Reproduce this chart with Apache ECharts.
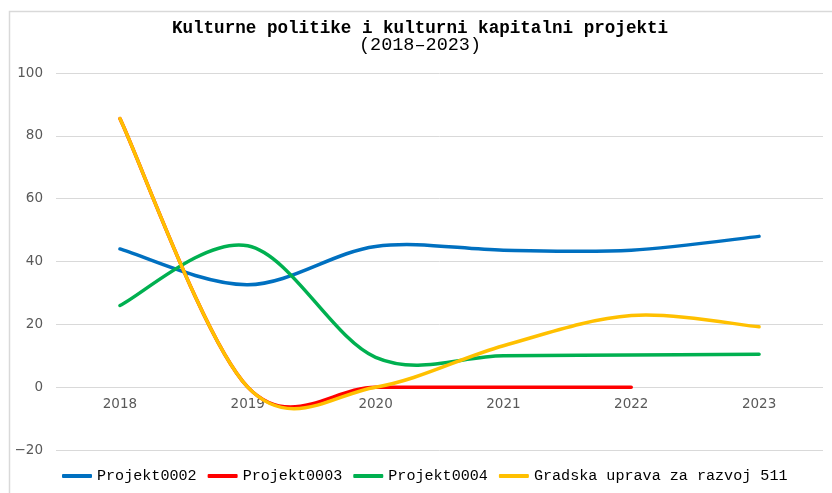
<!DOCTYPE html>
<html>
<head>
<meta charset="utf-8">
<script src="https://cdn.jsdelivr.net/npm/echarts@6/dist/echarts.min.js"></script>
<style>html,body{margin:0;padding:0;background:#fff;}#c{width:832px;height:493px;}</style>
</head>
<body>
<div id="c"></div>
<script>
const years = ['2018', '2019', '2020', '2021', '2022', '2023'];
const projekt0002 = [44, 32.6, 44.8, 43.6, 43.6, 48];
const projekt0003 = [85.5, 0, 0, 0, 0, null];
const projekt0004 = [26, 45, 9.5, 10, 10.2, 10.5];
const gradska511 = [85.5, 0, 0, 13.2, 22.8, 19.2];
const seriesNames = ['Projekt0002', 'Projekt0003', 'Projekt0004', 'Gradska uprava za razvoj 511'];
const yTicks = { min: -20, max: 100, interval: 20 };

const colors = ['#0070C0', '#FF0000', '#00B050', '#FFC000'];
const dataSets = [projekt0002, projekt0003, projekt0004, gradska511];

// Spreadsheet-style smoothed line: cubic Bezier through every data point,
// positioned with the chart's own axis scales (api.coord).
function smoothPath(vals, api) {
  const segs = [];
  let cur = [];
  vals.forEach((v, i) => {
    if (v == null) { if (cur.length) segs.push(cur); cur = []; }
    else cur.push(api.coord([i, v]));
  });
  if (cur.length) segs.push(cur);
  let d = '';
  segs.forEach(p => {
    if (p.length < 2) return;
    d += 'M' + p[0][0] + ' ' + p[0][1];
    for (let i = 0; i < p.length - 1; i++) {
      const p0 = p[i - 1] || p[i], p1 = p[i], p2 = p[i + 1], p3 = p[i + 2] || p[i + 1];
      const c1x = p1[0] + (p2[0] - p0[0]) / 6, c1y = p1[1] + (p2[1] - p0[1]) / 6;
      const c2x = p2[0] - (p3[0] - p1[0]) / 6, c2y = p2[1] - (p3[1] - p1[1]) / 6;
      d += ' C' + c1x + ' ' + c1y + ' ' + c2x + ' ' + c2y + ' ' + p2[0] + ' ' + p2[1];
    }
  });
  return d;
}

const chart = echarts.init(document.getElementById('c'), null, { renderer: 'canvas' });
chart.setOption({
  animation: false,
  backgroundColor: '#fff',
  color: colors,
  graphic: [{
    type: 'rect', left: 7, top: 9, z: -10,
    shape: { width: 900, height: 600 },
    style: { fill: 'none', stroke: '#d9d9d9', lineWidth: 1.5 }
  }],
  title: {
    text: 'Kulturne politike i kulturni kapitalni projekti',
    subtext: '(2018\u20132023)',
    left: 420, textAlign: 'center', top: 20, itemGap: 0, padding: 0,
    textStyle: { fontFamily: 'Liberation Mono', fontWeight: 'bold', fontSize: 17.6, lineHeight: 18, color: '#000' },
    subtextStyle: { fontFamily: 'Liberation Mono', fontSize: 18.5, lineHeight: 15, color: '#000' }
  },
  legend: {
    left: 62, top: 467, itemWidth: 30, itemHeight: 4, itemGap: 11,
    icon: 'roundRect', padding: 0,
    textStyle: { fontFamily: 'Liberation Mono', fontSize: 15.1, lineHeight: 18, color: '#000' },
    data: seriesNames
  },
  grid: { left: 56, right: 9, top: 73, bottom: 43, containLabel: false },
  xAxis: {
    type: 'category', data: years, boundaryGap: true,
    axisLine: { show: false },
    axisTick: { show: false },
    axisLabel: { margin: -53, fontFamily: 'DejaVu Sans', fontSize: 13.5, color: '#595959' }
  },
  yAxis: {
    type: 'value', min: yTicks.min, max: yTicks.max, interval: yTicks.interval,
    axisLine: { show: false }, axisTick: { show: false },
    axisLabel: {
      margin: 13, fontFamily: 'DejaVu Sans', fontSize: 13.5, color: '#595959',
      formatter: v => String(v).replace('-', '\u2212')
    },
    splitLine: { lineStyle: { color: '#d9d9d9', width: 1 } }
  },
  series: seriesNames.map((n, i) => ({
    name: n, type: 'custom', silent: true,
    itemStyle: { color: colors[i] },
    data: [[0, dataSets[i][0]]],
    renderItem: function (params, api) {
      return {
        type: 'path',
        shape: { pathData: smoothPath(dataSets[i], api) },
        style: { fill: 'none', stroke: colors[i], lineWidth: 3.5, lineCap: 'round', lineJoin: 'round' }
      };
    }
  }))
});
</script>
</body>
</html>
